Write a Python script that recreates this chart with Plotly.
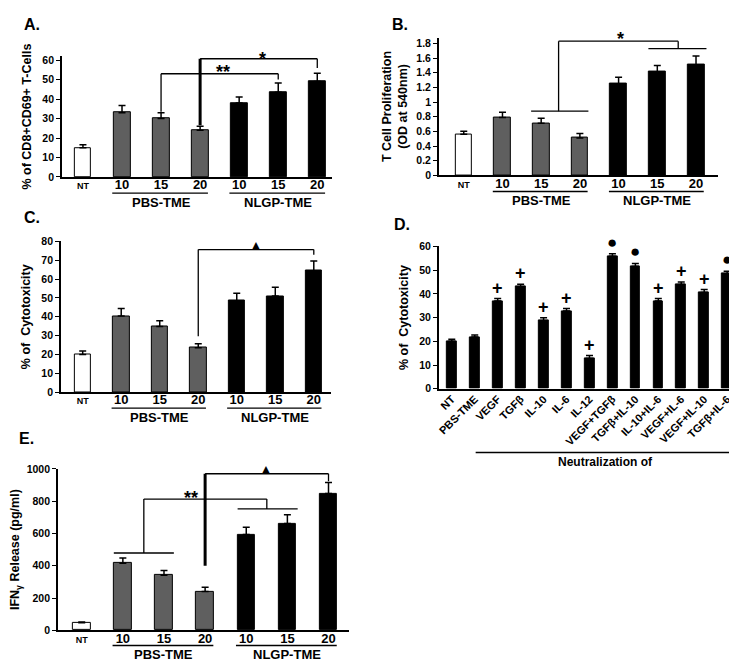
import plotly.graph_objects as go

W, H = 737, 661

# ---------------- data ----------------
dose_labels = ["NT", "10", "15", "20", "10", "15", "20"]
group_names = ["PBS-TME", "NLGP-TME"]

a_vals = [15, 33, 30, 24, 38, 43.5, 49]
a_err = [1.5, 3.7, 3.0, 2.0, 3.0, 4.7, 4.2]

b_vals = [0.56, 0.79, 0.71, 0.51, 1.25, 1.41, 1.51]
b_err = [0.04, 0.07, 0.07, 0.06, 0.09, 0.09, 0.12]

c_vals = [20, 40.4, 34.8, 23.5, 48.4, 51, 64.4]
c_err = [1.8, 4.0, 3.1, 2.1, 4.1, 4.7, 5.2]

d_labels = ["NT", "PBS-TME", "VEGF", "TGFβ", "IL-10", "IL-6", "IL-12",
            "VEGF+TGFβ", "TGFβ+IL-10", "IL-10+IL-6", "VEGF+IL-6",
            "VEGF+IL-10", "TGFβ+IL-6"]
d_vals = [20, 21.8, 37, 43, 28.7, 32.8, 12.8, 55.9, 51.5, 37, 43.9, 40.6, 48.5]
d_err = [0.9, 0.9, 1.0, 1.1, 1.2, 1.0, 1.2, 1.0, 1.3, 1.0, 1.1, 1.2, 1.0]
d_marks = ["", "", "+", "+", "+", "+", "+", "●", "●", "+", "+", "+", "●"]

e_vals = [47, 416, 341, 240, 594, 661, 848]
e_err = [5, 32, 30, 26, 45, 55, 67]

# ---------------- styling ----------------
FONT = "Liberation Sans, Arial, sans-serif"
GREY = "#5f5f5f"
dose_colors = ["white", GREY, GREY, GREY, "black", "black", "black"]

# panel geometry in pixels: x0, x1, ytop, ybottom, xrange, yrange
panels = {
    "A": dict(ax="", px=(52, 323), py=(43, 166), xr=[-0.54, 6.38], yr=[0, 62], dt=10, tmax=60),
    "B": dict(ax="2", px=(430, 710), py=(24, 164.3), xr=[-0.644, 6.57], yr=[0, 1.88], dt=0.2, tmax=1.8),
    "C": dict(ax="3", px=(51, 322), py=(231.7, 385), xr=[-0.567, 6.45], yr=[0, 80], dt=10, tmax=80),
    "D": dict(ax="4", px=(430, 726), py=(236.7, 381.7), xr=[-0.565, 12.3], yr=[0, 60], dt=10, tmax=60),
    "E": dict(ax="5", px=(48, 340), py=(463.3, 627.7), xr=[-0.58, 6.5], yr=[0, 1000], dt=200, tmax=1000),
}

fig = go.Figure()
shapes = []
annotations = []


def below(p, px):
    """y in 'y domain' units for a distance px below the x axis."""
    g = panels[p]
    return -px / (g["py"][1] - g["py"][0])


def add_bars(p, vals, errs, colors):
    ax = panels[p]["ax"]
    fig.add_trace(go.Bar(
        x=list(range(len(vals))), y=vals, width=0.43,
        marker=dict(color=colors, line=dict(color="black", width=1)),
        error_y=dict(type="data", symmetric=False, array=errs,
                     arrayminus=[0] * len(vals), color="black",
                     thickness=1.5, width=3.5),
        xaxis="x" + ax, yaxis="y" + ax, showlegend=False,
    ))


def line(p, x0, y0, x1, y1, w=1.3):
    ax = panels[p]["ax"]
    shapes.append(dict(type="line", xref="x" + ax, yref="y" + ax,
                       x0=x0, y0=y0, x1=x1, y1=y1,
                       line=dict(color="black", width=w)))


def text(p, x, y, t, size=14, yanchor="middle", yshift=0):
    ax = panels[p]["ax"]
    annotations.append(dict(xref="x" + ax, yref="y" + ax, x=x, y=y, text=t,
                            showarrow=False, font=dict(size=size, color="black"),
                            yanchor=yanchor, yshift=yshift))


def group_decor(p, ul_px, lab_px):
    ax = panels[p]["ax"]
    for g, name in zip([1, 4], group_names):
        shapes.append(dict(type="line", xref="x" + ax, yref="y" + ax + " domain",
                           x0=g - 0.25, x1=g + 2.2, y0=below(p, ul_px), y1=below(p, ul_px),
                           line=dict(color="black", width=1.3)))
        annotations.append(dict(xref="x" + ax, yref="y" + ax + " domain", x=g + 1,
                                y=below(p, lab_px), text=name, showarrow=False,
                                font=dict(size=13, color="black"), yanchor="middle"))


# ---------------- bars ----------------
add_bars("A", a_vals, a_err, dose_colors)
add_bars("B", b_vals, b_err, dose_colors)
add_bars("C", c_vals, c_err, dose_colors)
add_bars("D", d_vals, d_err, ["black"] * len(d_vals))
add_bars("E", e_vals, e_err, dose_colors)

for p in ["A", "B", "C"]:
    group_decor(p, 16.5, 26)
group_decor("E", 15.5, 24.5)

# ---------------- significance brackets ----------------
# A
line("A", 2, 33.5, 2, 53); line("A", 2, 53, 5, 53); line("A", 5, 53, 5, 50)
text("A", 3.58, 56, "**", 18, "middle", -4)
line("A", 3, 26.6, 3, 60.7, 3); line("A", 3, 60.7, 6, 60.7); line("A", 6, 60.7, 6, 56)
text("A", 4.6, 60.7, "*", 18, "middle", 0)
# B
line("B", 1.74, 0.875, 3.22, 0.875); line("B", 2.45, 0.875, 2.45, 1.83)
line("B", 2.45, 1.83, 5.54, 1.83); line("B", 5.54, 1.83, 5.54, 1.73)
line("B", 4.77, 1.73, 6.27, 1.73)
text("B", 4.05, 1.83, "*", 18, "middle", 2)
# C
line("C", 3, 29.6, 3, 75.7); line("C", 3, 75.7, 6, 75.7); line("C", 6, 75.7, 6, 73)
text("C", 4.5, 78.8, "▲", 12, "middle", -1)
# E
line("E", 0.78, 479, 2.24, 479); line("E", 1.51, 479, 1.51, 813)
line("E", 1.51, 813, 4.5, 813); line("E", 4.5, 813, 4.5, 752)
line("E", 3.79, 752, 5.25, 752)
text("E", 2.66, 842, "**", 18, "middle", -4)
line("E", 3, 400, 3, 970, 3); line("E", 3, 970, 6, 970); line("E", 6, 970, 6, 923)
text("E", 4.48, 970, "▲", 12, "middle", 5)

# D markers
for i, m in enumerate(d_marks):
    if m:
        text("D", i, d_vals[i] + d_err[i], m, 18 if m == "+" else 17, "bottom",
             -1 if m == "+" else 0)
shapes.append(dict(type="line", xref="x4", yref="y4 domain", x0=1.04, x1=12.3,
                   y0=below("D", 65), y1=below("D", 65), line=dict(color="black", width=1.5)))
annotations.append(dict(xref="x4", yref="y4 domain", x=6.7, y=below("D", 75),
                        text="Neutralization of", showarrow=False,
                        font=dict(size=12, color="black"), yanchor="middle"))

# panel letters
for lab, (lx, ly) in {"A.": (12, 11), "B.": (381, 11), "C.": (12, 207),
                      "D.": (383, 214), "E.": (7, 432)}.items():
    annotations.append(dict(xref="paper", yref="paper", x=lx / W, y=1 - ly / H,
                            text=lab, showarrow=False, xanchor="left", yanchor="middle",
                            font=dict(size=16, color="black")))

# ---------------- axes ----------------
titles = {"A": "% of CD8+CD69+ T-Cells",
          "B": "T Cell Proliferation<br>(OD at 540nm)",
          "C": "% of  Cytotoxicity",
          "D": "% of  Cytotoxicity",
          "E": "IFN<sub>γ</sub> Release (pg/ml)"}
standoffs = {"A": 8, "B": 6, "C": 8, "D": 8, "E": 8}

layout_axes = {}
for p, g in panels.items():
    ax = g["ax"]
    xdom = [g["px"][0] / W, g["px"][1] / W]
    ydom = [1 - g["py"][1] / H, 1 - g["py"][0] / H]
    n = 13 if p == "D" else 7
    if p == "D":
        ticktext = d_labels
        tickfont = dict(size=11, color="black")
        tickangle = -45
        tls = -2
    else:
        ticktext = ["<span style='font-size:9px'>NT</span>"] + dose_labels[1:]
        tickfont = dict(size=13, color="black")
        tickangle = 0
        tls = -5
    layout_axes["xaxis" + ax] = dict(
        domain=xdom, range=g["xr"], anchor="y" + ax, showline=True,
        linecolor="black", linewidth=1.5, showgrid=False, zeroline=False,
        tickmode="array", tickvals=list(range(n)), ticktext=ticktext,
        tickfont=tickfont, tickangle=tickangle, ticks="", ticklabelstandoff=tls,
        fixedrange=True)
    nt = int(round(g["tmax"] / g["dt"])) + 1
    tv = [round(k * g["dt"], 2) for k in range(nt)]
    tt = [("%g" % v) for v in tv]
    layout_axes["yaxis" + ax] = dict(
        domain=ydom, range=g["yr"], anchor="x" + ax, showline=True,
        linecolor="black", linewidth=1.5, showgrid=False, zeroline=False,
        tickmode="array", tickvals=tv, ticktext=tt, ticks="outside",
        ticklen=4, tickwidth=1, tickcolor="black",
        tickfont=dict(size=10.5, color="black"),
        title=dict(text=titles[p], font=dict(size=12.5, color="black"),
                   standoff=standoffs[p]), fixedrange=True)

fig.update_layout(
    width=W, height=H, margin=dict(l=0, r=0, t=0, b=0),
    paper_bgcolor="white", plot_bgcolor="white",
    font=dict(family=FONT, weight="bold", color="black"),
    bargap=0, showlegend=False,
    shapes=shapes, annotations=annotations, **layout_axes)

fig.write_html("out.html")
